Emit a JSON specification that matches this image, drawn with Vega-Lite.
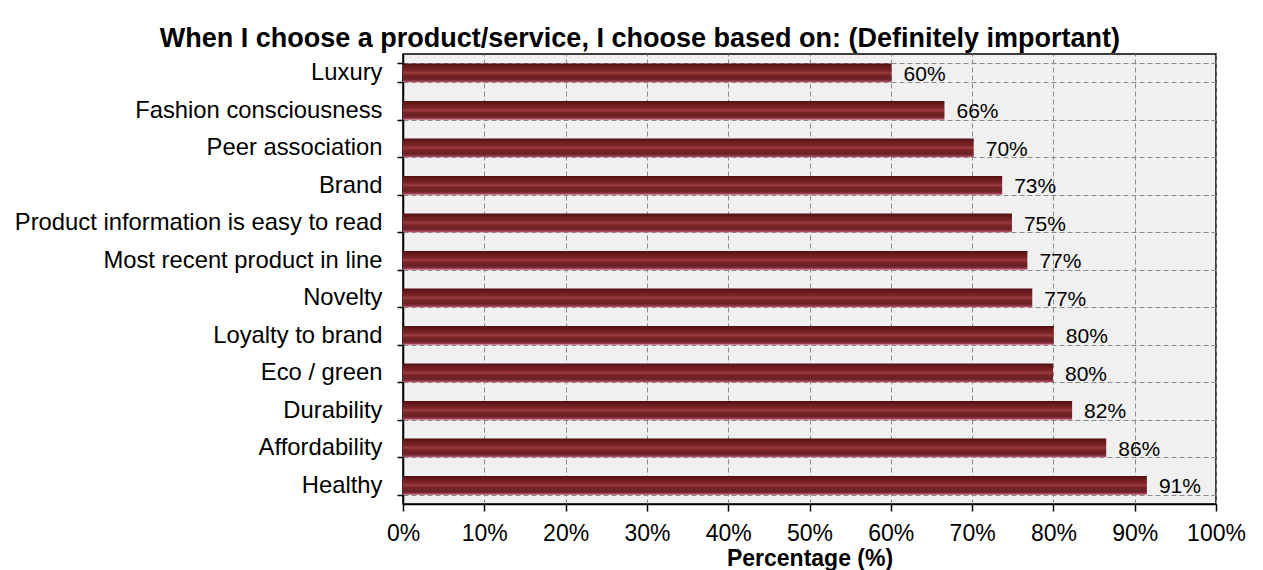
{
  "$schema": "https://vega.github.io/schema/vega-lite/v6.json",
  "width": 813,
  "height": 450,
  "autosize": {"type": "pad"},
  "padding": {"left": 14, "top": 25, "right": 5, "bottom": 0},
  "background": "white",
  "title": {
    "text": "When I choose a product/service, I choose based on: (Definitely important)",
    "font": "Liberation Sans",
    "fontSize": 27,
    "fontWeight": "bold",
    "color": "black",
    "anchor": "middle",
    "frame": "bounds",
    "offset": -11,
    "dx": 10
  },
  "config": {
    "view": {"fill": "#f0f0f0", "stroke": "black", "strokeWidth": 1.5},
    "font": "Liberation Sans"
  },
  "data": {
    "values": [
      {"cat": "Luxury", "value": 60.1, "label": "60%"},
      {"cat": "Fashion consciousness", "value": 66.6, "label": "66%"},
      {"cat": "Peer association", "value": 70.2, "label": "70%"},
      {"cat": "Brand", "value": 73.7, "label": "73%"},
      {"cat": "Product information is easy to read", "value": 74.9, "label": "75%"},
      {"cat": "Most recent product in line", "value": 76.8, "label": "77%"},
      {"cat": "Novelty", "value": 77.4, "label": "77%"},
      {"cat": "Loyalty to brand", "value": 80.05, "label": "80%"},
      {"cat": "Eco / green", "value": 79.95, "label": "80%"},
      {"cat": "Durability", "value": 82.3, "label": "82%"},
      {"cat": "Affordability", "value": 86.5, "label": "86%"},
      {"cat": "Healthy", "value": 91.5, "label": "91%"}
    ]
  },
  "encoding": {
    "y": {
      "field": "cat",
      "type": "nominal",
      "sort": null,
      "scale": {"paddingInner": 0.5, "paddingOuter": 0.25},
      "axis": {
        "title": null,
        "labelFont": "Liberation Sans",
        "labelFontSize": 23.8,
        "labelColor": "black",
        "labelPadding": 15,
        "labelLimit": 0,
        "tickBand": "extent",
        "tickSize": 6,
        "tickColor": "black",
        "tickWidth": 1.5,
        "domainColor": "black",
        "domainWidth": 1.5,
        "grid": true,
        "gridDash": [5, 3],
        "gridColor": "#8a8a8a",
        "gridWidth": 1
      }
    },
    "x": {
      "field": "value",
      "type": "quantitative",
      "scale": {"domain": [0, 100], "nice": false},
      "axis": {
        "values": [0, 10, 20, 30, 40, 50, 60, 70, 80, 90, 100],
        "labelExpr": "datum.value + '%'",
        "labelOverlap": false,
        "labelFlush": false,
        "labelFont": "Liberation Sans",
        "labelFontSize": 23,
        "labelColor": "black",
        "labelPadding": 11,
        "tickSize": 7,
        "tickColor": "black",
        "tickWidth": 1.5,
        "domainColor": "black",
        "domainWidth": 1.5,
        "grid": true,
        "gridDash": [5, 3],
        "gridColor": "#8a8a8a",
        "gridWidth": 1,
        "title": "Percentage (%)",
        "titleFont": "Liberation Sans",
        "titleFontSize": 23,
        "titleFontWeight": "bold",
        "titleColor": "black",
        "titlePadding": 2
      }
    }
  },
  "layer": [
    {
      "mark": {
        "type": "bar",
        "color": {
          "gradient": "linear",
          "x1": 0, "y1": 0, "x2": 0, "y2": 1,
          "stops": [
            {"offset": 0, "color": "#4e0e10"},
            {"offset": 0.15, "color": "#661a1c"},
            {"offset": 0.38, "color": "#7e2428"},
            {"offset": 0.5, "color": "#9c3c40"},
            {"offset": 0.62, "color": "#7a2428"},
            {"offset": 0.82, "color": "#6a2024"},
            {"offset": 0.92, "color": "#8e3444"},
            {"offset": 1, "color": "#c4607a"}
          ]
        }
      }
    },
    {
      "mark": {
        "type": "text",
        "align": "left",
        "baseline": "middle",
        "dx": 12,
        "dy": 2,
        "fontSize": 21,
        "font": "Liberation Sans",
        "color": "black"
      },
      "encoding": {"text": {"field": "label"}}
    }
  ]
}
